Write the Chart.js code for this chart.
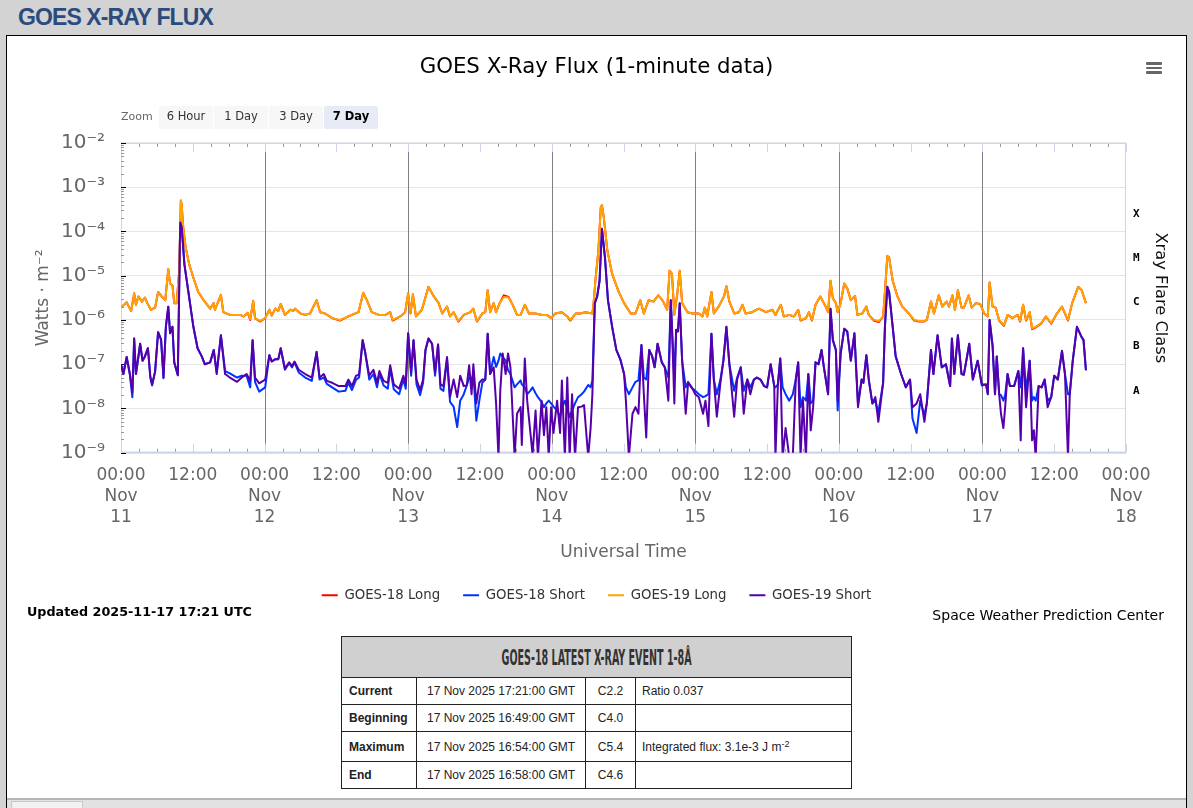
<!DOCTYPE html>
<html>
<head>
<meta charset="utf-8">
<title>GOES X-Ray Flux</title>
<script src="https://cdn.jsdelivr.net/npm/chart.js@4.4.1/dist/chart.umd.min.js"></script>
<style>
  body { margin: 0; width: 1193px; height: 808px; overflow: hidden; position: relative; background: #d3d3d3; font-family: "DejaVu Sans", sans-serif; }
  #pageTitle { position: absolute; left: 18px; top: 6px; font: bold 23px/23px "Liberation Sans", Arial, sans-serif; letter-spacing: -0.9px; color: #2b4a7e; }
  #panel { position: absolute; left: 6px; top: 35px; width: 1179px; height: 780px; background: #fff; border: 1px solid #000; }
  #chartBox { position: absolute; left: 8px; top: 37px; width: 1177px; height: 575px; }
  #zoomLabel { position: absolute; left: 121px; top: 109px; font-size: 11px; line-height: 16px; color: #666; }
  .zbtn { position: absolute; top: 106px; width: 54px; height: 23px; line-height: 21px; background: #f7f7f7; color: #333; font-size: 11.5px; text-align: center; border-radius: 2px; }
  .zbtn.on { background: #e6ebf5; font-weight: bold; color: #000; }
  #menu { position: absolute; left: 1146px; top: 62px; width: 16px; }
  #menu div { height: 2.6px; background: #666; margin-bottom: 2.1px; border-radius: 1px; }
  #updated { position: absolute; left: 27px; top: 604px; font-weight: bold; font-size: 12.75px; line-height: 16px; color: #000; }
  #credit { position: absolute; right: 29px; top: 607px; font-size: 14px; line-height: 16px; color: #000; }
  #evt { position: absolute; left: 341px; top: 636px; width: 511px; border-collapse: collapse; font: 12px "Liberation Sans", Arial, sans-serif; color: #222; }
  #evt td, #evt th { border: 1px solid #222; padding: 0; }
  #evt th { height: 40px; background: #d0d0d0; text-align: center; }
  #evtHead { display: inline-block; font: bold 22px "Liberation Sans Narrow", "DejaVu Sans Condensed", sans-serif; color: #333; white-space: nowrap; transform-origin: center; }
  #evt td { height: 26px; line-height: 14px; }
  #evt tr.tall td { height: 29px; }
  #evt td.k { font-weight: bold; padding-left: 7px; width: 67px; }
  #evt td.c { text-align: center; }
  #evt td.v { padding-left: 6px; }
  #evt sup { font-size: 9px; line-height: 0; vertical-align: 4px; }
  #bottomBar { position: absolute; left: 7px; top: 798px; width: 1179px; height: 10px; background: #e2e2e2; border-top: 2px solid #b5b5b5; }
  #bottomTab { position: absolute; left: 4px; top: 1px; width: 70px; height: 9px; background: #f2f2f2; border: 1px solid #c8c8c8; }
</style>
</head>
<body>
<div id="pageTitle">GOES X-RAY FLUX</div>
<div id="panel"></div>
<div id="chartBox"><canvas id="xray"></canvas></div>
<div id="zoomLabel">Zoom</div>
<div class="zbtn" style="left:159px">6 Hour</div>
<div class="zbtn" style="left:214px">1 Day</div>
<div class="zbtn" style="left:269px">3 Day</div>
<div class="zbtn on" style="left:324px">7 Day</div>
<div id="menu"><div></div><div></div><div></div></div>
<div id="updated">Updated 2025-11-17 17:21 UTC</div>
<div id="credit">Space Weather Prediction Center</div>
<table id="evt">
  <tr><th colspan="4"><span id="evtHead">GOES-18 LATEST X-RAY EVENT 1-8Å</span></th></tr>
  <tr><td class="k">Current</td><td class="c" style="width:168px">17 Nov 2025 17:21:00 GMT</td><td class="c" style="width:49px">C2.2</td><td class="v">Ratio 0.037</td></tr>
  <tr><td class="k">Beginning</td><td class="c">17 Nov 2025 16:49:00 GMT</td><td class="c">C4.0</td><td class="v"></td></tr>
  <tr class="tall"><td class="k">Maximum</td><td class="c">17 Nov 2025 16:54:00 GMT</td><td class="c">C5.4</td><td class="v">Integrated flux: 3.1e-3 J m<sup>-2</sup></td></tr>
  <tr><td class="k">End</td><td class="c">17 Nov 2025 16:58:00 GMT</td><td class="c">C4.6</td><td class="v"></td></tr>
</table>
<div id="bottomBar"><div id="bottomTab"></div></div>

<script>
// hours since 2025-11-11 00:00 UTC, and flux in W/m^2

// long channel (1-8 A)
const tLong = [
  0, 0.95, 1.7, 2.2, 2.5, 2.9, 3.5, 4.0, 4.4, 5.0,
  5.7, 6.2, 6.8, 7.4, 7.9, 8.2, 8.6, 8.9, 9.3, 9.75,
  10.0, 10.15, 10.4, 10.8, 11.4, 12.1, 12.9, 13.8, 14.9, 15.5,
  15.7, 16.7, 17.1, 18.2, 19.9, 20.5, 21.2, 21.6, 22.1, 22.4,
  23.3, 24.1, 24.8, 25.2, 25.8, 26.3, 26.7, 27.4, 28.3, 28.8,
  29.1, 30.0, 30.8, 31.6, 32.7, 33.3, 34.1, 35.3, 36.6, 38.0,
  39.7, 40.5, 41.1, 41.9, 43.1, 44.2, 45.0, 45.4, 46.7, 47.5,
  48.0, 48.4, 48.8, 49.3, 50.3, 51.4, 52.3, 53.1, 53.7, 54.5,
  55.0, 55.6, 56.4, 57.3, 58.4, 58.9, 59.5, 60.4, 60.9, 61.3,
  61.7, 62.3, 62.7, 63.3, 64.0, 64.8, 65.4, 66.2, 66.8, 67.5,
  68.2, 69.3, 70.4, 71.2, 71.9, 72.6, 73.7, 74.6, 75.1, 76.0,
  76.8, 77.6, 78.8, 79.0, 79.3, 79.8, 80.2, 80.4, 80.7, 81.3,
  82.1, 83.2, 84.1, 85.2, 86.0, 86.8, 87.4, 88.2, 89.0, 89.8,
  90.5, 91.3, 91.7, 92.1, 92.5, 93.0, 93.4, 93.8, 94.7, 95.5,
  96.6, 97.2, 97.6, 98.0, 98.7, 99.1, 99.9, 100.8, 101.2, 101.7,
  102.5, 103.3, 103.9, 104.4, 105.5, 106.6, 107.8, 108.9, 109.4, 110.3,
  110.8, 111.7, 112.5, 113.2, 113.6, 114.5, 115.0, 115.5, 116.1, 116.9,
  117.8, 118.2, 118.6, 119.0, 119.5, 119.8, 120.3, 120.9, 121.4, 122.0,
  122.7, 123.1, 123.9, 124.6, 125.0, 125.9, 126.7, 127.4, 127.8, 128.1,
  128.4, 129.0, 129.8, 130.6, 131.7, 132.6, 133.4, 134.2, 134.7, 135.4,
  135.9, 136.7, 137.3, 138.0, 138.4, 139.0, 139.4, 139.9, 140.5, 140.9,
  141.7, 142.2, 142.9, 143.6, 144.3, 144.9, 145.2, 145.7, 146.2, 146.8,
  147.6, 148.2, 149.0, 149.9, 150.3, 150.8, 151.3, 151.9, 152.3, 152.9,
  153.8, 154.6, 155.5, 156.3, 157.3, 158.3, 159.0, 160.0, 160.6, 161.3
];
const g19Long = [
  1.9e-6, 2.5e-6, 1.6e-6, 4.0e-6, 2.2e-6, 3.4e-6, 2.6e-6, 3.2e-6, 2.4e-6, 1.7e-6,
  1.9e-6, 4.3e-6, 3.4e-6, 2.8e-6, 1.4e-5, 6.7e-6, 6.0e-6, 2.4e-6, 2.4e-6, 1.4e-5,
  5.0e-4, 3.9e-4, 1.25e-4, 4.4e-5, 1.8e-5, 9.0e-6, 4.3e-6, 2.8e-6, 1.8e-6, 2.4e-6,
  1.7e-6, 3.7e-6, 1.5e-6, 1.3e-6, 1.3e-6, 1.2e-6, 1.45e-6, 1.05e-6, 2.7e-6, 1.1e-6,
  9.5e-7, 1.1e-6, 1.7e-6, 1.25e-6, 1.8e-6, 1.6e-6, 2.3e-6, 1.3e-6, 1.7e-6, 1.6e-6,
  1.8e-6, 1.4e-6, 1.3e-6, 1.4e-6, 2.8e-6, 1.5e-6, 1.4e-6, 1.1e-6, 1.0e-6, 1.2e-6,
  1.5e-6, 4.1e-6, 2.8e-6, 1.5e-6, 1.3e-6, 1.3e-6, 1.5e-6, 1.0e-6, 1.2e-6, 1.5e-6,
  4.0e-6, 1.4e-6, 3.8e-6, 1.2e-6, 1.7e-6, 5.6e-6, 3.4e-6, 2.4e-6, 1.4e-6, 2.0e-6,
  1.2e-6, 1.5e-6, 9.5e-7, 1.3e-6, 1.5e-6, 1.8e-6, 9.5e-7, 1.4e-6, 1.5e-6, 4.7e-6,
  1.5e-6, 2.4e-6, 1.5e-6, 2.4e-6, 3.3e-6, 3.2e-6, 2.3e-6, 1.3e-6, 1.3e-6, 2.2e-6,
  1.4e-6, 1.4e-6, 1.3e-6, 1.3e-6, 1.1e-6, 1.4e-6, 1.5e-6, 1.2e-6, 1.0e-6, 1.4e-6,
  1.4e-6, 1.5e-6, 1.4e-6, 2.4e-6, 7.7e-6, 3.7e-5, 3.5e-4, 3.9e-4, 2.1e-4, 3.7e-5,
  1.1e-5, 4.3e-6, 2.4e-6, 1.4e-6, 1.4e-6, 2.8e-6, 1.4e-6, 2.8e-6, 2.6e-6, 3.6e-6,
  2.8e-6, 1.7e-6, 1.3e-5, 1.1e-5, 1.3e-6, 4.0e-6, 1.3e-5, 2.4e-6, 1.5e-6, 1.4e-6,
  1.4e-6, 1.2e-6, 1.9e-6, 1.2e-6, 4.3e-6, 1.4e-6, 2.0e-6, 3.4e-6, 5.8e-6, 2.6e-6,
  1.4e-6, 1.5e-6, 2.2e-6, 1.4e-6, 1.5e-6, 1.8e-6, 1.5e-6, 1.7e-6, 1.3e-6, 2.2e-6,
  1.2e-6, 1.3e-6, 1.2e-6, 1.7e-6, 1.0e-6, 1.1e-6, 1.5e-6, 1.0e-6, 2.2e-6, 3.4e-6,
  2.0e-6, 1.5e-6, 7.7e-6, 3.1e-6, 2.4e-6, 1.5e-6, 2.4e-6, 6.7e-6, 5.2e-6, 2.8e-6,
  3.5e-6, 1.3e-6, 1.4e-6, 2.0e-6, 1.3e-6, 1.0e-6, 9.5e-7, 1.2e-6, 6.7e-6, 2.8e-5,
  2.6e-5, 7.7e-6, 3.4e-6, 2.0e-6, 1.4e-6, 1.0e-6, 9.5e-7, 9.5e-7, 1.0e-6, 2.6e-6,
  1.4e-6, 3.6e-6, 2.0e-6, 2.6e-6, 2.0e-6, 3.6e-6, 1.7e-6, 4.7e-6, 1.9e-6, 1.9e-6,
  3.6e-6, 1.9e-6, 2.4e-6, 2.3e-6, 1.4e-6, 1.2e-6, 7.0e-6, 2.0e-6, 1.9e-6, 1.0e-6,
  7.7e-7, 1.3e-6, 1.1e-6, 1.3e-6, 9.5e-7, 2.2e-6, 1.0e-6, 1.5e-6, 6.5e-7, 7.0e-7,
  8.5e-7, 1.2e-6, 8.5e-7, 1.3e-6, 2.0e-6, 1.0e-6, 2.4e-6, 5.6e-6, 4.7e-6, 2.4e-6
];
const g18Long = [
  1.9e-6, 2.5e-6, 1.6e-6, 4.0e-6, 2.2e-6, 3.4e-6, 2.6e-6, 3.2e-6, 2.4e-6, 1.7e-6,
  1.9e-6, 4.3e-6, 3.4e-6, 2.8e-6, 1.4e-5, 6.7e-6, 6.0e-6, 2.4e-6, 2.4e-6, 1.4e-5,
  5.0e-4, 3.9e-4, 1.25e-4, 4.4e-5, 1.8e-5, 9.0e-6, 4.3e-6, 2.8e-6, 1.8e-6, 2.4e-6,
  1.7e-6, 3.7e-6, 1.5e-6, 1.3e-6, 1.3e-6, 1.2e-6, 1.45e-6, 1.0e-6, 2.7e-6, 1.1e-6,
  9.2e-7, 1.1e-6, 1.7e-6, 1.25e-6, 1.8e-6, 1.6e-6, 2.3e-6, 1.3e-6, 1.7e-6, 1.6e-6,
  1.8e-6, 1.4e-6, 1.3e-6, 1.4e-6, 2.8e-6, 1.5e-6, 1.4e-6, 1.1e-6, 9.7e-7, 1.2e-6,
  1.5e-6, 4.1e-6, 2.8e-6, 1.5e-6, 1.3e-6, 1.3e-6, 1.5e-6, 9.7e-7, 1.2e-6, 1.5e-6,
  4.0e-6, 1.4e-6, 3.8e-6, 1.2e-6, 1.7e-6, 5.6e-6, 3.4e-6, 2.4e-6, 1.4e-6, 2.0e-6,
  1.2e-6, 1.5e-6, 9.2e-7, 1.3e-6, 1.5e-6, 1.8e-6, 9.2e-7, 1.4e-6, 1.5e-6, 4.7e-6,
  1.5e-6, 2.4e-6, 1.5e-6, 2.4e-6, 3.6e-6, 3.3e-6, 2.3e-6, 1.3e-6, 1.3e-6, 2.2e-6,
  1.4e-6, 1.4e-6, 1.3e-6, 1.3e-6, 1.1e-6, 1.4e-6, 1.5e-6, 1.2e-6, 9.7e-7, 1.4e-6,
  1.4e-6, 1.5e-6, 1.4e-6, 2.4e-6, 7.7e-6, 3.7e-5, 3.5e-4, 3.9e-4, 2.1e-4, 3.7e-5,
  1.1e-5, 4.3e-6, 2.4e-6, 1.4e-6, 1.4e-6, 2.8e-6, 1.4e-6, 2.8e-6, 2.6e-6, 3.6e-6,
  2.8e-6, 1.7e-6, 1.3e-5, 1.1e-5, 1.3e-6, 4.0e-6, 1.3e-5, 2.4e-6, 1.5e-6, 1.4e-6,
  1.4e-6, 1.2e-6, 1.9e-6, 1.2e-6, 4.3e-6, 1.4e-6, 2.0e-6, 3.4e-6, 5.8e-6, 2.6e-6,
  1.4e-6, 1.5e-6, 2.2e-6, 1.4e-6, 1.5e-6, 1.8e-6, 1.5e-6, 1.7e-6, 1.3e-6, 2.2e-6,
  1.2e-6, 1.3e-6, 1.2e-6, 1.7e-6, 9.7e-7, 1.1e-6, 1.5e-6, 9.7e-7, 2.2e-6, 3.4e-6,
  2.0e-6, 1.5e-6, 7.7e-6, 3.1e-6, 2.4e-6, 1.5e-6, 2.4e-6, 6.7e-6, 5.2e-6, 2.8e-6,
  3.5e-6, 1.3e-6, 1.4e-6, 2.0e-6, 1.3e-6, 9.6e-7, 9.0e-7, 1.2e-6, 6.7e-6, 2.8e-5,
  2.6e-5, 7.7e-6, 3.4e-6, 2.0e-6, 1.4e-6, 9.7e-7, 9.2e-7, 9.2e-7, 1.0e-6, 2.6e-6,
  1.4e-6, 3.6e-6, 2.0e-6, 2.6e-6, 2.0e-6, 3.6e-6, 1.7e-6, 4.7e-6, 1.9e-6, 1.9e-6,
  3.6e-6, 1.9e-6, 2.4e-6, 2.3e-6, 1.4e-6, 1.2e-6, 7.0e-6, 2.0e-6, 1.9e-6, 9.7e-7,
  7.4e-7, 1.3e-6, 1.1e-6, 1.3e-6, 9.2e-7, 2.2e-6, 9.7e-7, 1.5e-6, 6.2e-7, 6.8e-7,
  8.2e-7, 1.2e-6, 8.2e-7, 1.3e-6, 2.0e-6, 9.7e-7, 2.4e-6, 5.6e-6, 4.7e-6, 2.4e-6
];

// short channel (0.5-4 A)
const tShort = [
  0, 0.4, 0.95, 1.5, 1.9, 2.2, 2.5, 2.9, 3.2, 3.6,
  4.0, 4.5, 4.9, 5.2, 5.7, 6.2, 6.7, 7.1, 7.5, 7.9,
  8.2, 8.6, 8.9, 9.5, 9.9, 10.15, 10.6, 11.3, 12.1, 12.8,
  13.5, 14.0, 14.9, 15.5, 16.0, 16.7, 17.4, 18.2, 19.4, 20.2,
  21.0, 21.6, 22.0, 22.4, 23.1, 24.1, 24.8, 25.2, 25.8, 26.3,
  26.7, 27.4, 28.1, 28.6, 29.0, 29.7, 30.8, 31.9, 32.7, 33.2,
  33.9, 34.4, 35.3, 36.4, 37.5, 38.0, 38.6, 39.3, 39.8, 40.4,
  40.8, 41.5, 42.2, 42.8, 43.2, 43.9, 44.6, 45.0, 45.6, 46.5,
  47.2, 47.6, 48.0, 48.5, 48.9, 49.4, 50.0, 50.5, 50.9, 51.4,
  52.0, 52.5, 53.0, 53.4, 53.9, 54.5, 55.0, 55.6, 56.2, 56.7,
  57.3, 57.8, 58.2, 58.6, 58.9, 59.4, 59.9, 60.4, 60.9, 61.3,
  61.7, 62.3, 62.7, 63.1, 63.4, 63.8, 64.3, 64.7, 65.1, 65.8,
  66.2, 66.8, 67.0, 67.5, 67.9, 68.4, 68.8, 69.3, 69.7, 70.3,
  70.7, 71.1, 71.5, 71.9, 72.3, 72.9, 73.4, 73.7, 74.2, 74.6,
  75.0, 75.4, 75.9, 76.4, 77.0, 77.4, 78.1, 78.5, 78.8, 79.2,
  79.6, 80.0, 80.4, 80.9, 81.4, 82.1, 82.8, 83.5, 84.1, 84.4,
  84.9, 85.5, 86.0, 86.5, 87.0, 87.4, 87.8, 88.3, 88.8, 89.2,
  89.7, 90.4, 90.9, 91.5, 91.9, 92.1, 92.5, 92.8, 93.1, 93.4,
  93.8, 94.4, 94.8, 95.3, 96.0, 96.6, 97.3, 97.7, 98.2, 98.7,
  99.1, 99.6, 100.2, 100.7, 101.2, 101.7, 102.5, 103.0, 103.6, 104.1,
  104.7, 105.2, 105.8, 106.3, 106.9, 107.5, 108.0, 108.6, 109.2, 109.4,
  109.8, 110.2, 110.6, 111.1, 111.7, 112.3, 112.8, 113.2, 113.6, 114.0,
  114.5, 114.9, 115.3, 115.7, 116.1, 116.6, 117.1, 117.5, 118.2, 118.6,
  119.0, 119.5, 119.8, 120.3, 120.9, 121.4, 122.0, 122.6, 123.2, 123.8,
  124.1, 124.6, 125.0, 125.6, 126.1, 126.6, 127.4, 127.7, 128.1, 128.4,
  129.0, 129.5, 130.4, 131.2, 131.9, 132.3, 133.0, 133.6, 134.3, 134.7,
  135.4, 135.8, 136.5, 137.2, 137.9, 138.6, 138.9, 139.3, 139.9, 140.5,
  140.9, 141.8, 142.4, 143.2, 143.9, 144.6, 144.9, 145.2, 145.7, 146.1,
  146.4, 146.8, 147.1, 147.5, 147.8, 148.2, 148.6, 149.3, 150.0, 150.4,
  150.8, 151.3, 151.9, 152.3, 152.6, 152.9, 153.4, 153.9, 154.4, 154.9,
  155.5, 156.0, 156.6, 157.3, 157.8, 158.3, 158.6, 159.1, 159.8, 160.5,
  160.9, 161.3
];
const g19Short = [
  1.0e-7, 6.0e-8, 1.45e-7, 6.0e-8, 2.3e-8, 3.8e-7, 6.0e-8, 1.45e-7, 2.9e-7, 1.2e-7,
  1.5e-7, 2.3e-7, 5.2e-8, 3.5e-8, 6.8e-8, 5.3e-7, 3.6e-7, 5.0e-8, 7.0e-7, 2.0e-6,
  5.0e-7, 7.0e-7, 1.1e-7, 5.6e-8, 1.6e-4, 1.25e-4, 1.8e-5, 4.0e-6, 7.0e-7, 2.3e-7,
  1.5e-7, 1.0e-7, 1.1e-7, 2.1e-7, 6.0e-8, 4.5e-7, 6.0e-8, 5.0e-8, 4.0e-8, 5.0e-8,
  6.0e-8, 4.2e-8, 3.5e-7, 5.0e-8, 3.7e-8, 4.5e-8, 1.6e-7, 1.15e-7, 1.3e-7, 1.3e-7,
  2.3e-7, 8.0e-8, 1.1e-7, 9.0e-8, 1.15e-7, 7.5e-8, 6.0e-8, 5.0e-8, 1.9e-7, 5.0e-8,
  6.0e-8, 4.2e-8, 3.8e-8, 3.2e-8, 3.2e-8, 4.5e-8, 3.2e-8, 5.5e-8, 5.8e-8, 3.5e-7,
  1.9e-7, 5.5e-8, 7.5e-8, 3.8e-8, 7.0e-8, 4.2e-8, 3.8e-8, 9.5e-8, 3.5e-8, 2.8e-8,
  5.5e-8, 3.5e-8, 5.0e-7, 6.5e-8, 3.5e-7, 4.5e-8, 2.6e-8, 4.5e-8, 2.1e-7, 3.8e-7,
  2.9e-7, 6.5e-8, 2.8e-7, 3.5e-8, 3.2e-8, 1.45e-7, 1.8e-8, 4.5e-8, 1.8e-8, 5.5e-8,
  3.2e-8, 3.3e-8, 9.5e-8, 2.1e-8, 1.0e-7, 1.3e-8, 3.8e-8, 4.5e-8, 4.5e-8, 4.9e-7,
  6.0e-8, 8.5e-8, 1.3e-8, 8.0e-10, 2.5e-8, 1.75e-7, 6.0e-8, 1.75e-7, 8.5e-8, 8.0e-10,
  7.6e-9, 1.07e-8, 1.5e-9, 1.35e-7, 1.5e-8, 3.2e-9, 9.0e-10, 9.0e-9, 8.0e-10, 1.5e-8,
  2.5e-9, 1.07e-8, 8.0e-10, 1.07e-8, 2.8e-9, 1.5e-8, 2.8e-9, 4.3e-8, 8.0e-10, 5.0e-8,
  8.0e-10, 2.1e-8, 8.0e-10, 1.07e-8, 1.1e-8, 1.2e-8, 8.0e-10, 3.6e-9, 2.1e-8, 2.4e-6,
  3.4e-6, 7.7e-6, 1.15e-4, 2.6e-5, 2.8e-6, 7.0e-7, 2.1e-7, 1.25e-7, 6.0e-8, 1.5e-8,
  8.0e-10, 7.6e-9, 1.07e-8, 7.6e-9, 2.7e-7, 2.1e-8, 2.2e-9, 2.1e-7, 1.5e-7, 8.5e-8,
  2.9e-7, 1.1e-7, 8.5e-8, 1.5e-8, 2.8e-6, 7.0e-7, 1.3e-8, 6.0e-7, 5.5e-7, 2.4e-6,
  1.2e-7, 7.6e-9, 3.8e-8, 3.2e-8, 2.1e-8, 1.8e-8, 7.6e-9, 1.5e-8, 4.0e-9, 4.9e-7,
  4.5e-8, 6.5e-9, 3.8e-8, 1.2e-7, 7.0e-7, 1.0e-7, 6.5e-9, 4.5e-8, 8.5e-8, 7.6e-9,
  4.5e-8, 2.1e-8, 4.5e-8, 5.0e-8, 4.5e-8, 3.2e-8, 3.0e-8, 1.0e-7, 3.2e-8, 8.0e-10,
  3.2e-8, 1.35e-7, 8.0e-10, 3.6e-9, 8.0e-10, 8.0e-10, 4.5e-8, 1.1e-7, 8.0e-10, 1.5e-8,
  8.0e-10, 6.0e-8, 3.2e-9, 1.07e-8, 1.1e-7, 1.0e-7, 2.1e-7, 8.5e-8, 2.1e-8, 1.8e-6,
  3.5e-7, 2.1e-7, 1.5e-8, 1.75e-7, 6.3e-7, 5.5e-7, 1.2e-7, 5.0e-7, 1.07e-8, 4.5e-8,
  3.8e-8, 1.6e-7, 4.5e-8, 1.3e-8, 1.8e-8, 5.0e-9, 3.8e-8, 7.0e-7, 5.6e-6, 4.3e-6,
  7.0e-7, 1.5e-7, 6.0e-8, 3.0e-8, 4.5e-8, 1.07e-8, 1.3e-8, 2.1e-8, 5.0e-9, 1.3e-8,
  2.1e-7, 6.0e-8, 4.5e-7, 8.5e-8, 1.0e-7, 3.2e-8, 3.8e-7, 6.0e-8, 4.5e-7, 6.0e-8,
  5.8e-8, 2.9e-7, 4.5e-8, 1.2e-7, 3.5e-8, 3.5e-8, 2.1e-8, 1.0e-6, 2.6e-7, 2.1e-8,
  1.5e-7, 2.1e-8, 7.6e-9, 3.6e-9, 1.07e-8, 6.0e-8, 3.2e-8, 3.2e-8, 7.0e-8, 1.9e-9,
  2.3e-7, 1.07e-8, 1.2e-7, 1.9e-9, 3.2e-9, 8.0e-10, 3.2e-8, 3.0e-8, 4.5e-8, 1.07e-8,
  1.8e-8, 5.5e-8, 4.5e-8, 2.0e-7, 6.0e-8, 8.0e-10, 2.1e-8, 1.2e-7, 7.0e-7, 4.3e-7,
  3.5e-7, 7.3e-8
];
const g18Short = [
  1.0e-7, 6.0e-8, 1.45e-7, 5.5e-8, 1.8e-8, 3.8e-7, 6.0e-8, 1.45e-7, 2.9e-7, 1.2e-7,
  1.5e-7, 2.3e-7, 5.0e-8, 3.3e-8, 6.8e-8, 5.3e-7, 3.6e-7, 4.8e-8, 7.0e-7, 2.0e-6,
  5.0e-7, 7.0e-7, 1.1e-7, 5.6e-8, 1.6e-4, 1.25e-4, 1.8e-5, 4.0e-6, 7.0e-7, 2.3e-7,
  1.5e-7, 1.0e-7, 1.1e-7, 2.1e-7, 6.5e-8, 4.5e-7, 7.0e-8, 6.2e-8, 5.0e-8, 5.5e-8,
  5.5e-8, 3.0e-8, 3.5e-7, 4.0e-8, 2.4e-8, 3.0e-8, 1.6e-7, 1.15e-7, 1.3e-7, 1.3e-7,
  2.3e-7, 7.5e-8, 1.05e-7, 8.5e-8, 1.1e-7, 6.5e-8, 5.0e-8, 4.2e-8, 1.9e-7, 4.5e-8,
  5.0e-8, 3.6e-8, 3.0e-8, 2.4e-8, 2.5e-8, 3.8e-8, 2.6e-8, 4.5e-8, 5.0e-8, 3.5e-7,
  1.9e-7, 4.5e-8, 6.0e-8, 3.0e-8, 6.0e-8, 3.3e-8, 2.8e-8, 8.0e-8, 2.7e-8, 2.1e-8,
  4.5e-8, 2.8e-8, 5.0e-7, 5.5e-8, 3.5e-7, 3.5e-8, 2.0e-8, 3.8e-8, 2.1e-7, 3.8e-7,
  2.9e-7, 5.5e-8, 2.8e-7, 2.8e-8, 2.5e-8, 1.3e-7, 1.4e-8, 1.1e-8, 3.8e-9, 1.5e-8,
  2.1e-8, 3.3e-8, 5.0e-8, 4.5e-8, 6.0e-8, 5.3e-9, 1.5e-8, 3.8e-8, 4.5e-8, 4.9e-7,
  6.0e-8, 1.45e-7, 8.7e-8, 1.2e-7, 1.75e-7, 1.45e-7, 1.2e-7, 7.3e-8, 6.0e-8, 3.0e-8,
  3.5e-8, 4.3e-8, 3.5e-8, 3.0e-8, 2.1e-8, 2.5e-8, 3.0e-8, 2.2e-8, 1.8e-8, 1.4e-8,
  1.07e-8, 1.3e-8, 1.5e-8, 1.3e-8, 1.1e-8, 9.0e-9, 6.4e-9, 1.0e-8, 1.5e-8, 1.0e-8,
  6.4e-9, 9.0e-9, 1.3e-8, 1.8e-8, 2.1e-8, 2.4e-8, 3.4e-8, 3.0e-8, 4.3e-8, 2.4e-6,
  3.4e-6, 7.7e-6, 1.15e-4, 2.6e-5, 2.8e-6, 7.0e-7, 2.1e-7, 1.25e-7, 6.0e-8, 3.0e-8,
  2.1e-8, 3.0e-8, 4.0e-8, 4.3e-8, 2.7e-7, 5.0e-8, 4.5e-8, 2.1e-7, 1.5e-7, 8.5e-8,
  2.9e-7, 1.1e-7, 8.5e-8, 5.0e-8, 2.8e-6, 7.0e-7, 5.0e-8, 6.0e-7, 5.5e-7, 2.4e-6,
  1.2e-7, 3.0e-8, 4.0e-8, 3.0e-8, 2.5e-8, 2.1e-8, 1.8e-8, 1.9e-8, 2.1e-8, 4.9e-7,
  4.5e-8, 2.1e-8, 4.5e-8, 1.2e-7, 7.0e-7, 1.0e-7, 2.5e-8, 5.0e-8, 8.5e-8, 2.5e-8,
  4.5e-8, 3.0e-8, 4.5e-8, 5.0e-8, 4.5e-8, 3.2e-8, 3.0e-8, 1.0e-7, 3.2e-8, 3.0e-8,
  3.5e-8, 1.35e-7, 3.0e-8, 2.1e-8, 1.5e-8, 2.1e-8, 4.5e-8, 1.1e-7, 1.07e-8, 1.8e-8,
  1.5e-8, 6.0e-8, 1.3e-8, 1.5e-8, 1.1e-7, 1.0e-7, 2.1e-7, 8.5e-8, 2.1e-8, 1.8e-6,
  3.5e-7, 2.1e-7, 9.0e-9, 1.75e-7, 6.3e-7, 5.5e-7, 1.2e-7, 5.0e-7, 1.3e-8, 4.5e-8,
  3.8e-8, 1.6e-7, 4.5e-8, 1.3e-8, 1.5e-8, 8.0e-9, 3.8e-8, 7.0e-7, 5.6e-6, 4.3e-6,
  7.0e-7, 1.5e-7, 6.0e-8, 3.0e-8, 4.5e-8, 6.0e-9, 2.8e-9, 1.5e-8, 7.0e-9, 1.3e-8,
  2.1e-7, 6.0e-8, 4.5e-7, 8.5e-8, 1.0e-7, 3.2e-8, 3.8e-7, 6.0e-8, 4.5e-7, 6.0e-8,
  5.8e-8, 2.9e-7, 4.5e-8, 1.2e-7, 3.3e-8, 3.5e-8, 2.1e-8, 1.0e-6, 2.6e-7, 2.1e-8,
  1.5e-7, 2.1e-8, 2.0e-8, 1.5e-8, 2.0e-8, 6.0e-8, 3.2e-8, 3.2e-8, 7.0e-8, 3.0e-8,
  2.3e-7, 2.5e-8, 1.2e-7, 1.5e-8, 1.8e-8, 1.5e-8, 3.2e-8, 3.0e-8, 4.5e-8, 1.5e-8,
  1.8e-8, 5.5e-8, 4.5e-8, 2.0e-7, 6.0e-8, 2.1e-8, 2.1e-8, 1.2e-7, 7.0e-7, 4.3e-7,
  3.5e-7, 7.3e-8
];

// axis ticks and labels
const hourTicks = [0, 12, 24, 36, 48, 60, 72, 84, 96, 108, 120, 132, 144, 156, 168];
const dayLabels = ['11', '12', '13', '14', '15', '16', '17', '18'];
const dayLines = [24, 48, 72, 96, 120, 144];
const decadeTicks = [1e-9, 1e-8, 1e-7, 1e-6, 1e-5, 1e-4, 1e-3, 1e-2];
const decadeLabels = ['10⁻⁹', '10⁻⁸', '10⁻⁷', '10⁻⁶', '10⁻⁵', '10⁻⁴', '10⁻³', '10⁻²'];
const classTicks = [2.5e-8, 2.5e-7, 2.5e-6, 2.5e-5, 2.5e-4];
const classLabels = ['A', 'B', 'C', 'M', 'X'];

function pairs(times, vals) {
  return times.map((t, i) => ({ x: t, y: vals[i] }));
}

// plot frame, small inward ticks and the day plot lines
const frame = {
  id: 'frame',
  beforeDatasetsDraw(chart) {
    const { ctx, chartArea: a, scales } = chart;
    const x = scales.x, y = scales.y;
    ctx.save();
    ctx.lineWidth = 1;
    // x ticks every 3 hours, longer blue ones every 12
    for (let h = 0; h <= 168; h += 3) {
      const px = Math.round(x.getPixelForValue(h)) + 0.5;
      const long = h % 12 === 0;
      ctx.strokeStyle = long ? '#ccd6eb' : '#999';
      const len = long ? 9 : 4;
      ctx.beginPath();
      ctx.moveTo(px, a.top); ctx.lineTo(px, a.top + len);
      ctx.moveTo(px, a.bottom); ctx.lineTo(px, a.bottom - len);
      ctx.stroke();
    }
    // day separators
    ctx.strokeStyle = '#808080';
    dayLines.forEach(h => {
      const px = Math.round(x.getPixelForValue(h)) + 0.5;
      ctx.beginPath();
      ctx.moveTo(px, a.top + 9); ctx.lineTo(px, a.bottom - 9);
      ctx.stroke();
    });
    // outline
    ctx.strokeStyle = '#ccd6eb';
    ctx.strokeRect(a.left + 0.5, a.top + 0.5, a.right - a.left - 1, a.bottom - a.top - 1);
    ctx.lineWidth = 2;
    ctx.beginPath();
    ctx.moveTo(a.left, a.bottom); ctx.lineTo(a.right, a.bottom);
    ctx.stroke();
    // y minor ticks
    ctx.lineWidth = 1;
    for (let e = -9; e < -2; e++) {
      for (let k = 2; k <= 9; k++) {
        const py = Math.round(y.getPixelForValue(k * Math.pow(10, e))) + 0.5;
        ctx.strokeStyle = '#999';
        ctx.beginPath(); ctx.moveTo(a.left, py); ctx.lineTo(a.left + 3, py); ctx.stroke();
      }
    }
    ctx.strokeStyle = '#000';
    decadeTicks.forEach(v => {
      const py = Math.round(y.getPixelForValue(v)) + 0.5;
      ctx.beginPath(); ctx.moveTo(a.left, py); ctx.lineTo(a.left + 5, py); ctx.stroke();
    });
    ctx.restore();
  }
};

Chart.defaults.font.family = '"DejaVu Sans", sans-serif';

new Chart(document.getElementById('xray'), {
  type: 'line',
  data: {
    datasets: [
      { label: 'GOES-18 Long', data: pairs(tLong, g18Long), borderColor: '#ff0000', backgroundColor: '#ff0000', order: 4 },
      { label: 'GOES-18 Short', data: pairs(tShort, g18Short), borderColor: '#0033ff', backgroundColor: '#0033ff', order: 3 },
      { label: 'GOES-19 Long', data: pairs(tLong, g19Long), borderColor: '#ffa500', backgroundColor: '#ffa500', order: 2 },
      { label: 'GOES-19 Short', data: pairs(tShort, g19Short), borderColor: '#5500aa', backgroundColor: '#5500aa', order: 1 }
    ]
  },
  options: {
    animation: false,
    responsive: true,
    maintainAspectRatio: false,
    events: [],
    elements: {
      point: { radius: 0, borderWidth: 2 },
      line: { borderWidth: 2, tension: 0, borderJoinStyle: 'round' }
    },
    layout: { padding: 0 },
    plugins: {
      title: {
        display: true,
        text: 'GOES X-Ray Flux (1-minute data)',
        color: '#000',
        font: { size: 21.3, weight: 'normal' },
        padding: { top: 17.2, bottom: 63.2 }
      },
      legend: {
        position: 'bottom',
        labels: {
          usePointStyle: true,
          pointStyle: 'line',
          pointStyleWidth: 16,
          padding: 23,
          color: '#333',
          font: { size: 13.3 },
          sort: (a, b) => a.datasetIndex - b.datasetIndex
        }
      },
      tooltip: { enabled: false }
    },
    scales: {
      x: {
        type: 'linear',
        min: 0,
        max: 168,
        afterBuildTicks: s => { s.ticks = hourTicks.map(v => ({ value: v })); },
        afterFit: s => { s.height = 113; },
        grid: { display: false },
        border: { display: false },
        ticks: {
          autoSkip: false,
          maxRotation: 0,
          padding: 4,
          color: '#666',
          font: { size: 17, lineHeight: '21px' },
          callback: v => (v % 24 === 0 ? ['00:00', 'Nov', dayLabels[v / 24]] : '12:00')
        },
        title: { display: true, text: 'Universal Time', color: '#666', font: { size: 17 }, padding: { top: 0, bottom: 3 } }
      },
      y: {
        type: 'logarithmic',
        position: 'left',
        min: 1e-9,
        max: 1e-2,
        afterBuildTicks: s => { s.ticks = decadeTicks.map(v => ({ value: v })); },
        afterFit: s => { s.width = 113; },
        grid: { color: '#e6e6e6', drawTicks: false },
        border: { display: false },
        ticks: {
          autoSkip: false,
          padding: 16,
          color: '#666',
          font: { size: 20 },
          callback: (v, i) => decadeLabels[i]
        },
        title: { display: true, text: 'Watts · m⁻²', color: '#666', font: { size: 17 }, padding: { top: 25 } }
      },
      y2: {
        type: 'logarithmic',
        axis: 'y',
        position: 'right',
        min: 1e-9,
        max: 1e-2,
        afterBuildTicks: s => { s.ticks = classTicks.map(v => ({ value: v })); },
        afterFit: s => { s.width = 59; },
        grid: { display: false, drawTicks: false },
        border: { display: false },
        ticks: {
          autoSkip: false,
          padding: 7,
          color: '#000',
          font: { family: '"DejaVu Sans Mono", monospace', size: 11, weight: 'bold' },
          callback: (v, i) => classLabels[i]
        },
        title: { display: true, text: 'Xray Flare Class', color: '#111', font: { size: 16.3 }, padding: { top: 15.4 } }
      }
    }
  },
  plugins: [frame]
});

// squeeze the table heading to the condensed width of the original
const head = document.getElementById('evtHead');
head.style.transform = 'scaleX(' + (190 / head.getBoundingClientRect().width) + ')';
</script>
</body>
</html>
